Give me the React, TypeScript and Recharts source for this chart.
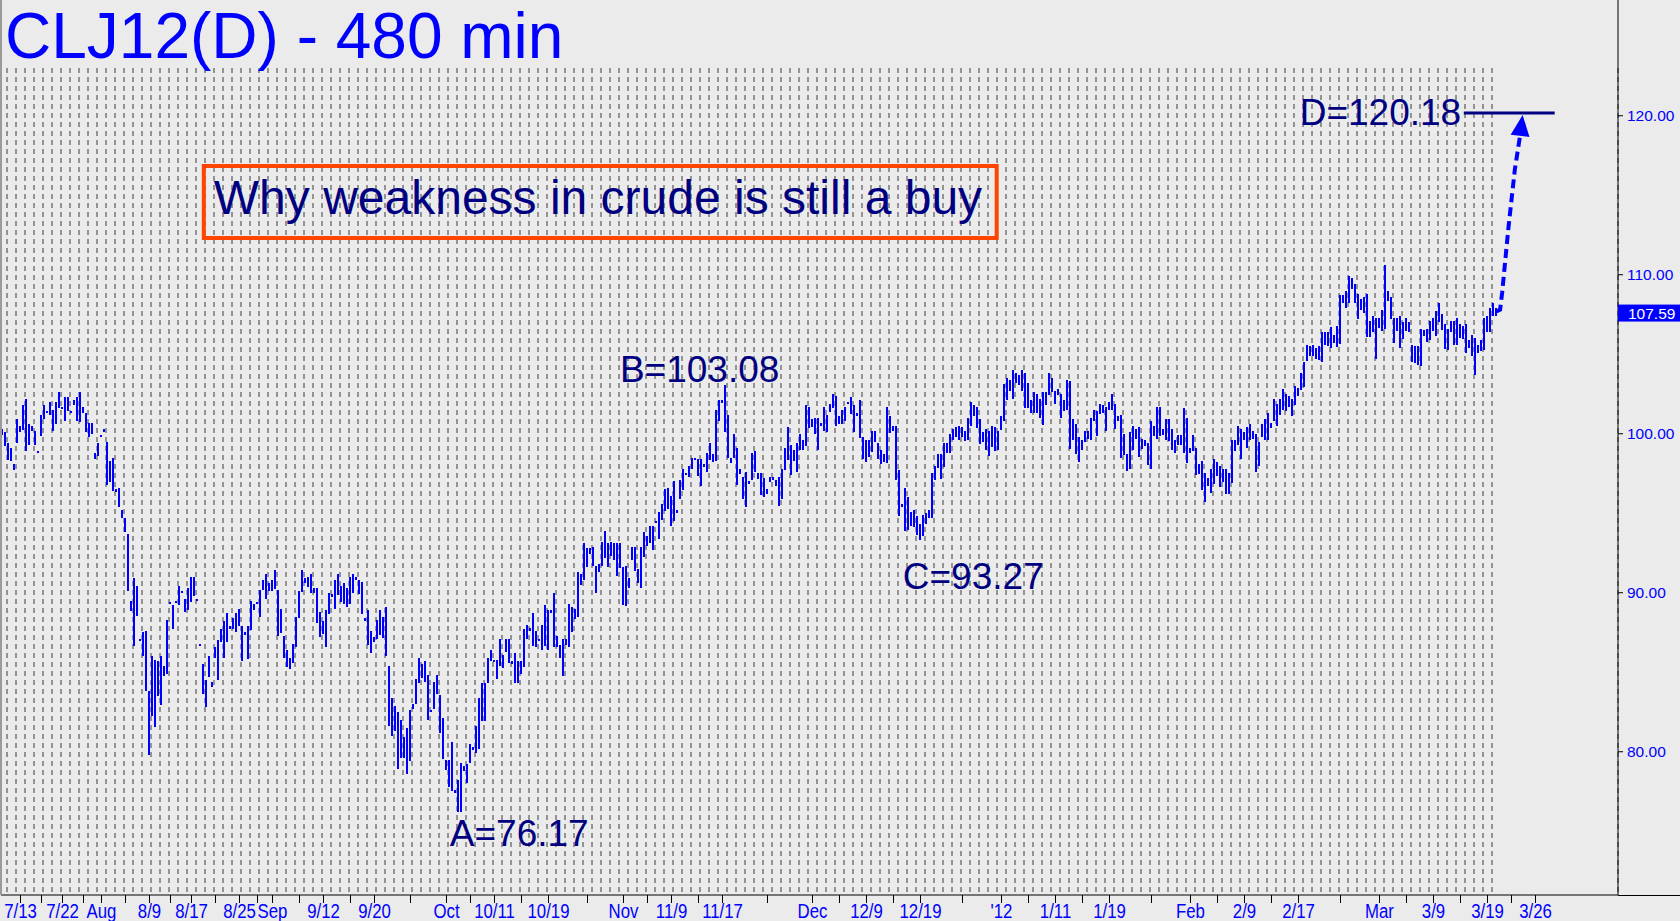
import React from "react";
import {
  ComposedChart,
  Bar,
  Line,
  XAxis,
  YAxis,
  CartesianGrid,
  ReferenceLine,
  ReferenceArea,
  ReferenceDot,
} from "recharts";

// 480-minute bars: high / low per bar (index 0 = 7/13)
const highs = [
  100.3, 100.1, 99.4, 99.1, 98.1, 100.9, 100.5, 101.8, 102.2, 100.6, 100.5, 100.2, 98.9, 101.2, 101.8, 101.4, 102.0, 101.5, 102.0, 102.6,
  101.7, 102.3, 102.3, 101.4, 102.1, 102.3, 102.6, 101.7, 101.3, 100.7, 100.7, 98.8, 99.4, 99.9, 100.3, 99.5, 98.3, 98.5, 96.5, 96.6,
  95.2, 94.7, 93.7, 89.5, 90.9, 90.4, 87.1, 87.5, 87.6, 83.8, 86.0, 85.8, 85.7, 86.0, 85.4, 88.3, 89.4, 89.2, 89.5, 90.4,
  90.1, 89.6, 90.3, 91.0, 91.0, 89.6, 86.8, 85.5, 84.5, 86.0, 84.4, 86.6, 87.0, 87.7, 88.2, 88.7, 87.9, 88.4, 88.7, 89.0,
  87.9, 87.5, 87.9, 89.5, 89.3, 89.4, 90.2, 90.8, 91.2, 90.6, 90.8, 91.4, 90.2, 89.0, 87.3, 86.4, 85.9, 86.8, 88.5, 90.1,
  91.4, 90.9, 91.0, 91.2, 90.3, 90.3, 88.8, 88.2, 88.9, 90.0, 89.9, 90.8, 91.2, 90.4, 90.6, 90.3, 91.0, 91.2, 91.0, 90.8,
  90.7, 88.4, 88.9, 87.6, 87.2, 88.3, 88.9, 88.5, 89.1, 85.4, 83.4, 82.9, 82.5, 82.0, 80.9, 81.5, 82.6, 83.0, 84.6, 85.9,
  85.5, 85.7, 84.8, 82.6, 84.4, 84.8, 83.6, 82.1, 79.5, 79.5, 80.6, 77.6, 78.2, 79.3, 79.1, 79.2, 80.5, 80.3, 81.6, 83.4,
  84.3, 84.3, 85.9, 86.4, 85.8, 85.8, 87.1, 86.1, 87.1, 87.1, 85.7, 86.2, 85.7, 85.7, 87.7, 88.0, 87.8, 88.7, 87.6, 87.1,
  88.0, 89.2, 88.9, 88.9, 90.0, 87.3, 86.7, 87.1, 87.1, 89.3, 89.1, 89.0, 91.3, 91.2, 93.1, 92.8, 92.8, 92.9, 91.7, 91.8,
  93.2, 93.9, 93.1, 93.2, 93.1, 93.1, 93.1, 91.6, 91.7, 90.9, 92.9, 92.9, 91.5, 92.9, 93.8, 93.6, 94.2, 94.2, 94.5, 95.1,
  95.6, 96.5, 96.6, 96.1, 97.0, 95.2, 97.1, 97.8, 97.5, 98.0, 98.5, 98.5, 98.4, 98.4, 98.1, 98.8, 99.4, 98.7, 101.5, 102.1,
  102.1, 103.08, 101.2, 98.5, 100.0, 99.1, 97.8, 97.3, 97.6, 97.0, 98.8, 98.9, 97.5, 97.5, 97.2, 96.5, 97.3, 97.3, 97.1, 97.3,
  97.8, 99.1, 100.4, 99.3, 99.0, 99.4, 100.0, 99.6, 101.8, 101.7, 100.9, 101.0, 101.0, 100.7, 101.7, 101.2, 101.9, 102.5, 102.4, 101.1,
  101.5, 101.7, 102.0, 102.3, 101.8, 101.3, 102.1, 99.8, 99.6, 99.6, 100.2, 100.2, 99.4, 99.0, 98.7, 101.7, 101.1, 100.5, 100.5, 97.7,
  95.6, 96.6, 96.0, 95.1, 95.2, 94.8, 94.3, 94.9, 95.0, 95.2, 97.5, 98.0, 98.7, 98.7, 99.4, 99.4, 100.0, 100.3, 100.4, 100.5,
  100.4, 100.2, 101.0, 102.0, 101.8, 101.7, 100.9, 100.1, 100.3, 100.2, 100.5, 100.4, 100.2, 101.1, 103.1, 103.5, 103.4, 104.0, 103.8, 103.7,
  104.0, 103.8, 103.2, 102.1, 102.6, 102.5, 102.2, 102.6, 102.6, 103.8, 103.5, 102.7, 102.8, 102.5, 102.1, 103.4, 103.3, 100.9, 100.6, 99.8,
  99.6, 100.2, 100.2, 101.0, 101.5, 101.4, 101.9, 101.8, 101.7, 102.0, 102.5, 101.9, 101.1, 101.2, 100.0, 98.7, 100.1, 100.5, 100.3, 100.4,
  99.7, 99.6, 99.4, 100.8, 100.5, 101.7, 101.7, 100.3, 100.9, 100.9, 100.3, 99.6, 99.9, 99.9, 101.6, 101.0, 99.1, 99.9, 99.1, 98.1,
  98.3, 97.5, 97.2, 97.8, 98.4, 98.2, 98.0, 97.8, 97.8, 97.5, 99.6, 99.6, 100.5, 100.3, 100.1, 100.4, 100.6, 100.2, 100.0, 99.5,
  100.6, 100.9, 101.3, 100.7, 102.2, 101.9, 102.2, 102.8, 102.5, 102.4, 102.2, 103.0, 102.9, 103.8, 104.5, 105.6, 105.5, 105.6, 105.4, 105.5,
  106.4, 106.4, 106.4, 106.7, 106.2, 106.8, 108.7, 108.7, 109.0, 109.9, 109.8, 109.4, 108.8, 108.5, 108.6, 108.8, 107.1, 107.4, 107.3, 107.3,
  107.8, 110.6, 109.0, 108.6, 107.3, 107.3, 107.4, 107.0, 107.3, 107.0, 105.6, 105.5, 105.5, 106.6, 106.5, 106.6, 107.1, 107.3, 107.7, 108.2,
  107.5, 106.9, 106.6, 107.1, 107.1, 107.3, 106.9, 106.8, 106.9, 105.9, 106.2, 106.0, 105.6, 105.9, 107.3, 107.4, 107.9, 108.2, 107.9,
];

const lows = [
  99.9, 99.2, 98.3, 98.3, 97.7, 99.4, 100.1, 100.2, 98.9, 99.3, 100.2, 99.3, 98.8, 99.9, 100.9, 101.3, 101.2, 100.2, 100.6, 101.6,
  101.6, 100.8, 101.4, 101.3, 101.8, 100.8, 100.7, 101.3, 100.1, 99.8, 100.0, 98.4, 98.6, 99.8, 100.1, 96.8, 97.0, 96.4, 96.3, 95.4,
  94.7, 93.8, 90.1, 88.9, 86.6, 88.5, 87.0, 86.0, 83.8, 79.8, 82.2, 81.6, 83.5, 82.9, 84.8, 84.9, 89.3, 87.7, 89.4, 89.2,
  90.0, 88.8, 88.9, 89.4, 89.8, 89.5, 86.7, 83.6, 82.8, 84.7, 84.1, 85.9, 84.5, 86.9, 85.9, 86.9, 87.7, 87.7, 87.5, 87.9,
  85.7, 87.3, 85.8, 87.7, 88.9, 89.3, 88.5, 90.2, 89.6, 90.1, 90.1, 90.2, 87.3, 87.5, 85.9, 85.3, 85.2, 85.6, 86.6, 88.4,
  90.0, 90.6, 90.4, 90.0, 90.0, 88.1, 87.2, 87.4, 86.6, 88.7, 89.7, 89.0, 89.9, 89.4, 89.3, 89.1, 89.3, 90.0, 90.8, 89.9,
  88.7, 88.2, 86.7, 86.2, 86.9, 87.1, 87.3, 87.2, 86.0, 81.6, 81.0, 81.3, 78.9, 79.6, 79.6, 78.6, 79.4, 82.7, 83.0, 84.3,
  84.6, 84.4, 82.0, 82.5, 82.7, 83.6, 81.2, 79.5, 78.9, 77.8, 77.5, 77.4, 76.17, 76.2, 78.8, 78.0, 79.3, 80.1, 79.9, 80.2,
  81.9, 81.9, 84.3, 85.7, 85.7, 84.6, 85.4, 85.3, 86.3, 85.6, 85.5, 84.3, 84.3, 84.9, 85.3, 87.1, 87.6, 86.6, 86.6, 87.0,
  86.4, 86.6, 86.4, 88.7, 86.6, 86.6, 85.9, 84.8, 86.7, 86.6, 87.5, 88.4, 88.5, 90.5, 90.8, 91.6, 92.4, 91.7, 90.0, 91.3,
  91.7, 92.2, 91.6, 92.3, 92.0, 91.0, 91.5, 89.2, 89.2, 90.3, 92.1, 91.4, 90.6, 90.3, 92.2, 93.0, 93.1, 92.7, 94.4, 93.4,
  94.6, 95.1, 95.3, 94.2, 94.5, 95.0, 95.9, 96.5, 97.4, 97.3, 97.8, 98.4, 97.3, 96.7, 97.9, 97.6, 98.3, 98.2, 98.3, 100.8,
  101.9, 100.1, 98.5, 98.2, 98.5, 96.8, 97.5, 95.9, 95.4, 96.8, 97.1, 97.6, 97.1, 96.1, 96.0, 96.2, 97.0, 97.1, 96.7, 95.5,
  95.9, 97.7, 98.3, 97.4, 98.3, 97.6, 99.0, 99.0, 99.2, 100.4, 100.4, 100.0, 99.0, 100.5, 100.2, 100.1, 101.4, 101.6, 100.5, 100.6,
  100.6, 100.8, 101.9, 101.2, 100.1, 101.1, 99.7, 98.4, 98.2, 98.5, 98.9, 99.5, 98.4, 98.1, 98.2, 98.2, 100.0, 100.2, 97.1, 94.8,
  95.4, 93.9, 93.9, 94.2, 94.1, 93.6, 93.27, 93.6, 94.3, 94.7, 94.7, 97.1, 97.8, 97.1, 97.9, 98.8, 98.8, 99.6, 99.8, 99.6,
  99.8, 99.6, 99.6, 100.5, 101.1, 100.4, 99.3, 99.5, 99.0, 98.6, 99.2, 98.9, 99.0, 100.2, 100.8, 102.1, 102.7, 102.2, 103.2, 103.1,
  102.7, 101.6, 101.6, 101.3, 101.3, 101.3, 101.0, 100.5, 101.8, 102.4, 102.6, 101.9, 102.4, 101.0, 101.4, 101.5, 99.0, 99.6, 98.7, 98.2,
  99.0, 99.5, 99.7, 99.6, 100.8, 99.8, 101.3, 101.3, 100.2, 101.5, 101.5, 100.3, 100.8, 98.5, 98.7, 97.6, 97.8, 99.0, 99.7, 98.5,
  99.1, 99.2, 98.0, 97.8, 99.9, 99.7, 99.9, 99.9, 99.6, 99.5, 99.0, 98.8, 99.3, 99.3, 98.8, 98.2, 98.8, 98.9, 97.4, 97.5,
  96.5, 95.7, 96.7, 96.3, 96.8, 97.3, 96.7, 97.0, 96.2, 96.2, 96.9, 98.9, 99.3, 98.4, 99.6, 99.1, 99.6, 99.7, 97.6, 98.0,
  99.8, 99.6, 99.6, 100.4, 100.8, 100.5, 101.2, 101.5, 101.4, 101.7, 101.1, 101.8, 102.4, 102.7, 102.9, 104.6, 104.9, 104.9, 104.7, 104.6,
  104.5, 105.6, 105.5, 105.4, 105.7, 105.5, 105.6, 108.2, 107.9, 108.2, 109.1, 108.2, 107.2, 107.8, 107.6, 106.1, 106.1, 106.4, 104.7, 106.7,
  106.5, 106.6, 108.4, 107.2, 105.7, 106.5, 105.4, 105.9, 106.5, 106.4, 104.5, 104.4, 104.3, 104.3, 106.1, 105.8, 105.9, 106.5, 106.1, 107.0,
  106.5, 105.3, 105.3, 106.4, 105.6, 105.6, 106.0, 106.0, 105.1, 105.4, 104.9, 103.7, 105.1, 105.2, 105.3, 106.4, 106.4, 107.4, 107.4,
];

// date labels on the time axis (bar index where each label sits)
const dateIdx = [6, 20, 33, 49, 63, 79, 90, 107, 124, 148, 164, 182, 207, 223, 240, 270, 288, 306, 333, 351, 369, 396, 414, 432, 459, 477, 495, 511];
const dateText = ["7/13", "7/22", "Aug", "8/9", "8/17", "8/25", "Sep", "9/12", "9/20", "Oct", "10/11", "10/19", "Nov", "11/9", "11/17", "Dec", "12/9", "12/19", "'12", "1/11", "1/19", "Feb", "2/9", "2/17", "Mar", "3/9", "3/19", "3/26"];

const priceTicks = [80, 90, 100, 110, 120];
const lastClose = 107.59;
const target = 120.18;

const pivotText = ["A=76.17", "B=103.08", "C=93.27", "D=120.18"];

// projected move from the last bar up to the D target (bar index / price)
const projIdx = [498.0, 499.2, 499.9, 502.0, 504.1, 505.9];
const projPrice = [107.7, 107.8, 108.9, 113.0, 116.6, 118.8];

// layout of the annotations, in chart units (bar index, price)
const pivotAt = [
  [149.1, 74.07],
  [205.8, 103.25],
  [300.1, 90.23],
  [432.4, 119.42],
];
const boxAt = { x1: 67.1, x2: 331.4, y1: 112.31, y2: 116.84 };
const targetFrom = 487.1;
const targetTo = 517.4;

const FONT = '"Liberation Sans", Arial, Helvetica, sans-serif';
const BLUE = "#0000ff";
const NAVY = "#000080";
const X_DOMAIN: [number, number] = [-0.5, 538.5];

const bars = highs.map((h, k) => ({ i: k, hl: [lows[k], h] }));
const proj = projIdx.map((i, k) => ({ i, v: projPrice[k] }));

const midTicks = dateIdx.slice(1).map((v, k) => Math.round((v + dateIdx[k]) / 2));
const xTicks = [...dateIdx, ...midTicks].sort((a, b) => a - b);
const yTicks = [...priceTicks, lastClose].sort((a, b) => a - b);

// one dashed grid line per trading day
const gridIdx = Array.from({ length: 166 }, (_, k) => 3 * k + 1.5);

const OhlcBar = (p: any) => {
  const { x, y, width, height } = p;
  if (x == null || y == null) return <g />;
  const cx = x + width / 2;
  const top = Math.round(Math.min(y, y + height));
  const h = Math.max(Math.round(Math.abs(height)), 2);
  return <rect x={Math.round(cx - 1)} y={top} width={2} height={h} fill={BLUE} shapeRendering="crispEdges" />;
};

const XTick = (p: any) => {
  const { x, y, payload } = p;
  const k = dateIdx.indexOf(payload.value);
  if (k < 0) return <g />;
  return (
    <text
      x={0}
      y={0}
      transform={`translate(${x},${y}) scale(0.8,1)`}
      textAnchor="middle"
      dy="0.71em"
      fontSize={21}
      fill={BLUE}
      fontFamily={FONT}
    >
      {dateText[k]}
    </text>
  );
};

const YTick = (p: any) => {
  const { x, y, payload } = p;
  const v = payload.value;
  if (v === lastClose) {
    return (
      <g>
        <rect x={x - 9} y={y - 8.5} width={62} height={17} fill={BLUE} />
        <text x={x + 1} y={y} dy="0.36em" fontSize={15.5} fill="#ffffff" fontFamily={FONT}>
          {v.toFixed(2)}
        </text>
      </g>
    );
  }
  return (
    <text x={x} y={y} dy="0.36em" fontSize={15.5} fill={BLUE} fontFamily={FONT}>
      {v.toFixed(2)}
    </text>
  );
};

const ArrowHead = (p: any) => {
  const { cx, cy, index } = p;
  if (index !== proj.length - 1) return <g key={index} />;
  return (
    <polygon
      key="head"
      points={`${cx - 9.5},${cy + 1} ${cx + 9.5},${cy + 1} ${cx},${cy - 20}`}
      fill={BLUE}
      transform={`rotate(7 ${cx} ${cy})`}
    />
  );
};

const pivotLabel = (t: string) => (props: any) => {
  const vb = props.viewBox || {};
  return (
    <text x={vb.x} y={vb.y} fontSize={37} fill={NAVY} fontFamily={FONT}>
      {t}
    </text>
  );
};

const boxLabel = (props: any) => {
  const vb = props.viewBox || {};
  return (
    <text x={vb.x + 10} y={vb.y + 48} fontSize={48} fill={NAVY} fontFamily={FONT}>
      Why weakness in crude is still a buy
    </text>
  );
};

export default function App() {
  return (
    <div
      style={{
        position: "absolute",
        left: 0,
        top: 0,
        width: 1680,
        height: 921,
        background: "#ebebeb",
        overflow: "hidden",
      }}
    >
      <ComposedChart width={1680} height={921} data={bars} margin={{ top: 0, right: 0, bottom: 0, left: 1 }}>
        <CartesianGrid
          xAxisId="grid"
          horizontal={false}
          vertical
          y={68}
          height={827}
          stroke="#3a3a3a"
          strokeDasharray="5 4"
        />
        <XAxis
          dataKey="i"
          type="number"
          domain={X_DOMAIN}
          ticks={xTicks}
          interval={0}
          allowDataOverflow
          height={26}
          tick={XTick}
          tickSize={8}
          tickMargin={0}
          axisLine={{ stroke: "#000" }}
          tickLine={{ stroke: "#000" }}
        />
        {/* day grid only: hidden axis whose ticks feed the vertical grid */}
        <XAxis
          xAxisId="grid"
          dataKey="i"
          type="number"
          domain={X_DOMAIN}
          ticks={gridIdx}
          interval={0}
          height={0}
          allowDataOverflow
          hide
        />
        <YAxis
          orientation="right"
          width={62}
          domain={[70.99, 127.28]}
          allowDataOverflow
          ticks={yTicks}
          interval={0}
          tick={YTick}
          tickSize={5}
          tickMargin={4}
          axisLine={{ stroke: "#000" }}
          tickLine={{ stroke: "#000" }}
        />
        <Bar dataKey="hl" barSize={2} shape={OhlcBar} isAnimationActive={false} />
        <Line
          data={proj}
          dataKey="v"
          type="linear"
          stroke={BLUE}
          strokeWidth={4}
          strokeDasharray="9 5"
          dot={ArrowHead}
          activeDot={false}
          isAnimationActive={false}
        />
        <ReferenceLine
          segment={[
            { x: targetFrom, y: target },
            { x: targetTo, y: target },
          ]}
          stroke={NAVY}
          strokeWidth={3}
          ifOverflow="visible"
        />
        <ReferenceArea
          x1={boxAt.x1}
          x2={boxAt.x2}
          y1={boxAt.y1}
          y2={boxAt.y2}
          fill="none"
          stroke="#ff4500"
          strokeWidth={4}
          ifOverflow="visible"
          label={boxLabel}
        />
        {pivotText.map((t, k) => (
          <ReferenceDot
            key={t}
            x={pivotAt[k][0]}
            y={pivotAt[k][1]}
            r={0}
            fill="none"
            stroke="none"
            ifOverflow="visible"
            label={pivotLabel(t)}
          />
        ))}
      </ComposedChart>
      <svg width={1680} height={80} style={{ position: "absolute", left: 0, top: 0 }}>
        <text x={5} y={58} fontSize={64} fill={BLUE} fontFamily={FONT}>
          CLJ12(D) - 480 min
        </text>
      </svg>
      <div style={{ position: "absolute", left: 0, top: 0, width: 2, height: 895, background: "#9a9a9a" }} />
      <div style={{ position: "absolute", left: 1618, top: 895, width: 62, height: 1, background: "#000" }} />
    </div>
  );
}
